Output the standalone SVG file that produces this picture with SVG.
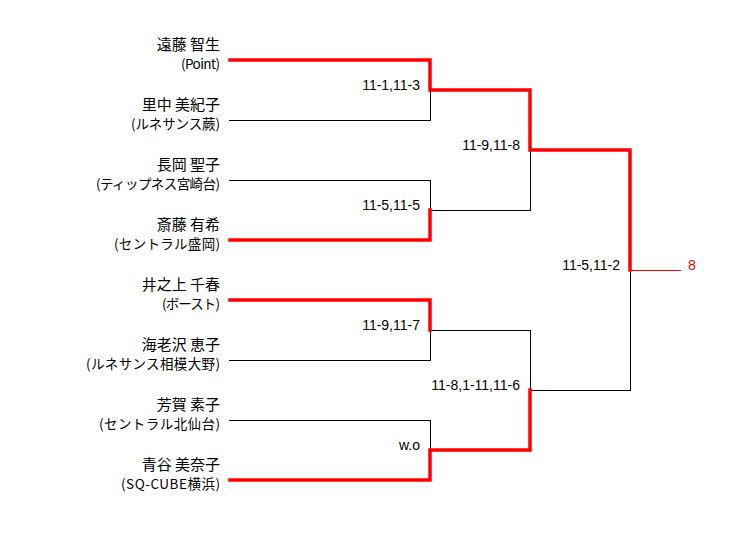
<svg xmlns="http://www.w3.org/2000/svg" width="747" height="560" viewBox="0 0 747 560">
<style>
.bg{fill:#ffffff}
.nm{font-family:"Noto Sans CJK JP","Noto Sans",sans-serif;font-size:15px;fill:#000;text-anchor:end}
.af{font-family:"Noto Sans CJK JP","Noto Sans",sans-serif;font-size:13.5px;fill:#000;text-anchor:end}
.sc{font-family:"Liberation Sans",Arial,sans-serif;font-size:14px;fill:#000;text-anchor:end}
.res{font-family:"Liberation Sans",Arial,sans-serif;font-size:14px;fill:#e00000;text-anchor:start}
.lose{fill:none;stroke:#000;stroke-width:1;shape-rendering:crispEdges}
.win{fill:none;stroke:#ff0000;stroke-width:3.5;stroke-linejoin:miter;stroke-linecap:square}
.thin{fill:none;stroke:#ff0000;stroke-width:1;shape-rendering:crispEdges}
</style>
<rect class="bg" x="0" y="0" width="747" height="560"/>
<g id="connectors">
  <polyline class="lose" points="229,120.5 430.5,120.5 430.5,90"/>
  <polyline class="lose" points="229,180.5 430.5,180.5 430.5,210"/>
  <polyline class="lose" points="430,210.5 530.5,210.5 530.5,150"/>
  <polyline class="lose" points="229,360.5 430.5,360.5 430.5,330"/>
  <polyline class="lose" points="430,330.5 530.5,330.5 530.5,390"/>
  <polyline class="lose" points="229,420.5 430.5,420.5 430.5,450"/>
  <polyline class="lose" points="530,390.5 630.5,390.5 630.5,270"/>
  <polyline class="win" points="230,60 430,60 430,90 530,90 530,150 630,150 630,270"/>
  <polyline class="win" points="230,240 430,240 430,210"/>
  <polyline class="win" points="230,300 430,300 430,330"/>
  <polyline class="win" points="230,480 430,480 430,450 530,450 530,390"/>
  <line class="thin" x1="630" y1="270.5" x2="681" y2="270.5"/>
</g>
<g id="p1"><text class="nm" x="220" y="50">遠藤 智生</text><text class="af" x="220" y="69" textLength="39">(Point)</text></g>
<g id="p2"><text class="nm" x="220" y="110">里中 美紀子</text><text class="af" x="220" y="129" textLength="89">(ルネサンス蕨)</text></g>
<g id="p3"><text class="nm" x="220" y="170">長岡 聖子</text><text class="af" x="220" y="189" textLength="124">(ティップネス宮崎台)</text></g>
<g id="p4"><text class="nm" x="220" y="230">斎藤 有希</text><text class="af" x="220" y="249" textLength="106">(セントラル盛岡)</text></g>
<g id="p5"><text class="nm" x="220" y="290">井之上 千春</text><text class="af" x="220" y="309" textLength="58">(ボースト)</text></g>
<g id="p6"><text class="nm" x="220" y="350">海老沢 恵子</text><text class="af" x="220" y="369" textLength="134">(ルネサンス相模大野)</text></g>
<g id="p7"><text class="nm" x="220" y="410">芳賀 素子</text><text class="af" x="220" y="429" textLength="121">(セントラル北仙台)</text></g>
<g id="p8"><text class="nm" x="220" y="470">青谷 美奈子</text><text class="af" x="220" y="489" textLength="99">(SQ-CUBE横浜)</text></g>
<g id="m1"><text class="sc" x="420" y="90">11-1,11-3</text></g>
<g id="m2"><text class="sc" x="420" y="210">11-5,11-5</text></g>
<g id="m3"><text class="sc" x="420" y="330">11-9,11-7</text></g>
<g id="m4"><text class="sc" x="420" y="450" font-size="12.5">w.o</text></g>
<g id="m5"><text class="sc" x="520" y="150">11-9,11-8</text></g>
<g id="m6"><text class="sc" x="520" y="390">11-8,1-11,11-6</text></g>
<g id="m7"><text class="sc" x="620" y="270">11-5,11-2</text></g>
<g id="result"><text class="res" x="688" y="270">8</text></g>
</svg>
